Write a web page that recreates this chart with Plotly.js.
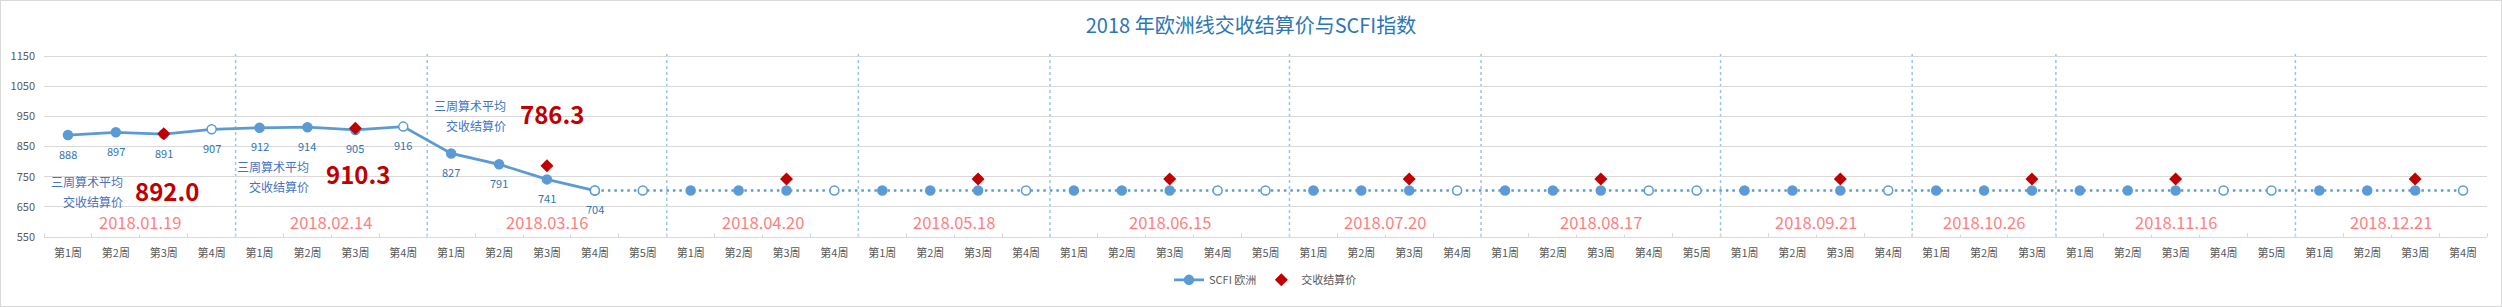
<!DOCTYPE html>
<html><head><meta charset="utf-8">
<script src="https://cdn.plot.ly/plotly-3.0.1.min.js"></script>
<style>
html,body{margin:0;padding:0;background:#fff}
#chart{width:2500px;height:305px;border:1px solid #d9d9d9}
</style>
</head><body><div id="chart"></div>
<script>
// ---------------- data ----------------
const monthDates = ['2018.01.19','2018.02.14','2018.03.16','2018.04.20','2018.05.18','2018.06.15',
                    '2018.07.20','2018.08.17','2018.09.21','2018.10.26','2018.11.16','2018.12.21'];
const monthWeeks = [4,4,5,4,4,5,4,5,4,3,5,4];
const weekLabels = [
  '第1周','第2周','第3周','第4周',
  '第1周','第2周','第3周','第4周',
  '第1周','第2周','第3周','第4周','第5周',
  '第1周','第2周','第3周','第4周',
  '第1周','第2周','第3周','第4周',
  '第1周','第2周','第3周','第4周','第5周',
  '第1周','第2周','第3周','第4周',
  '第1周','第2周','第3周','第4周','第5周',
  '第1周','第2周','第3周','第4周',
  '第1周','第2周','第3周',
  '第1周','第2周','第3周','第4周','第5周',
  '第1周','第2周','第3周','第4周'
];
const scfiEurope = [
  888,897,891,907,
  912,914,905,916,
  827,791,741,704,704,
  704,704,704,704,
  704,704,704,704,
  704,704,704,704,704,
  704,704,704,704,
  704,704,704,704,704,
  704,704,704,704,
  704,704,704,
  704,704,704,704,704,
  704,704,704,704
];
const settlement = [892.0,910.3,786.3,742,742,742,742,742,742,742,742,742];
const settlementWeek = '第3周';
const labeledPoints = 12;      // points that carry data labels / solid line
const avgNoteMonths = 3;       // months with the "三周算术平均" note

// ---------------- build ----------------
const FONT = '"Noto Sans CJK SC","Noto Sans",sans-serif';
const BLUE = '#5b9bd5';
const idx = weekLabels.map((_, i) => i);
const monthStart = [];
{ let s = 0; monthWeeks.forEach(n => { monthStart.push(s); s += n; }); }
const settleX = monthStart.map((st, m) => st + weekLabels.slice(st, st + monthWeeks[m]).indexOf(settlementWeek));
const markerFill = weekLabels.map(w => (w === '第4周' || w === '第5周') ? '#ffffff' : BLUE);
const split = labeledPoints - 1;

const traces = [
  {
    x: idx.slice(0, split + 1), y: scfiEurope.slice(0, split + 1),
    type: 'scatter', mode: 'lines+markers', name: 'SCFI 欧洲',
    line: {color: BLUE, width: 2.75},
    marker: {size: 9, color: markerFill.slice(0, split + 1), line: {color: BLUE, width: 1.5}},
    hoverinfo: 'skip'
  },
  {
    x: idx.slice(split), y: scfiEurope.slice(split),
    type: 'scatter', mode: 'lines+markers', name: 'SCFI 欧洲', showlegend: false,
    line: {color: BLUE, width: 2.5, dash: '2.5px,4px'},
    marker: {size: 9, color: markerFill.slice(split), line: {color: BLUE, width: 1.5}},
    hoverinfo: 'skip'
  },
  {
    x: settleX, y: settlement,
    type: 'scatter', mode: 'markers', name: '交收结算价',
    marker: {symbol: 'diamond', size: 10, color: '#c00000'},
    hoverinfo: 'skip'
  }
];

const annotations = [];
// data labels
for (let i = 0; i < labeledPoints; i++) {
  annotations.push({x: i, y: scfiEurope[i], text: String(scfiEurope[i]), showarrow: false,
    yshift: -18.5, font: {family: FONT, size: 11, color: '#2e75b6'}});
}
// date labels
monthDates.forEach((d, m) => {
  annotations.push({x: monthStart[m] + (monthWeeks[m] - 1) / 2, y: 550, yanchor: 'bottom', yshift: 2,
    text: d, showarrow: false, bgcolor: '#ffffff', borderpad: 0,
    font: {family: FONT, size: 16.5, color: '#ff7f7f'}});
});
// three-week average notes (text-box positions)
const notePos = [
  {lx: 1.19, l1: 733, l2: 668, nx: 2.06, ny: 703},
  {lx: 5.07, l1: 783, l2: 717, nx: 6.05, ny: 761},
  {lx: 9.18, l1: 986, l2: 919, nx: 10.1, ny: 960}
];
for (let m = 0; m < avgNoteMonths; m++) {
  const p = notePos[m];
  annotations.push({x: p.lx, y: p.l1, xanchor: 'right', text: '三周算术平均', showarrow: false,
    font: {family: FONT, size: 12, color: '#4472c4'}});
  annotations.push({x: p.lx, y: p.l2, xanchor: 'right', text: '交收结算价', showarrow: false,
    font: {family: FONT, size: 12, color: '#4472c4'}});
  annotations.push({x: p.nx, y: p.ny, text: '<b>' + settlement[m].toFixed(1) + '</b>', showarrow: false,
    font: {family: FONT, size: 24, color: '#c00000'}});
}

// month separators
const shapes = monthStart.slice(1).map(st => ({
  type: 'line', xref: 'x', yref: 'y', x0: st - 0.5, x1: st - 0.5, y0: 550, y1: 1160,
  line: {color: '#9dc3e6', width: 1.5, dash: 'dot'}, layer: 'below'
}));

const boundaries = [];
for (let i = 0; i <= weekLabels.length; i++) boundaries.push(i - 0.5);

const layout = {
  width: 2500, height: 305,
  margin: {l: 43.3, r: 14, t: 51.6, b: 63.3, pad: 0},
  paper_bgcolor: '#ffffff', plot_bgcolor: '#ffffff',
  font: {family: FONT, size: 11, color: '#595959'},
  title: {text: '2018 年欧洲线交收结算价与SCFI指数', x: 0.5, xanchor: 'center',
          y: 1 - 25/305, yref: 'container', yanchor: 'middle',
          font: {family: FONT, size: 20, color: '#2e75b6'}},
  showlegend: true,
  legend: {orientation: 'h', x: 0.5, xanchor: 'center', y: -0.233, yanchor: 'middle',
           font: {family: FONT, size: 11, color: '#595959'}, bgcolor: 'rgba(0,0,0,0)'},
  xaxis: {
    range: [-0.5, weekLabels.length - 0.5], tickmode: 'array', tickvals: idx, ticktext: weekLabels,
    ticks: '', showgrid: false, zeroline: false, showline: true, linecolor: '#d9d9d9', linewidth: 1,
    tickfont: {family: FONT, size: 11, color: '#595959'}, ticklabelstandoff: 6,
    minor: {tickmode: 'array', tickvals: boundaries, ticks: 'inside', ticklen: 4, tickwidth: 1,
            tickcolor: '#d9d9d9', showgrid: false},
    fixedrange: true
  },
  yaxis: {
    range: [550, 1160], tickmode: 'linear', tick0: 550, dtick: 100,
    showgrid: true, gridcolor: '#d9d9d9', gridwidth: 1, zeroline: false, showline: false,
    ticks: '', tickfont: {family: FONT, size: 11, color: '#595959'}, ticklabelstandoff: 8,
    fixedrange: true
  },
  annotations: annotations,
  shapes: shapes
};

Plotly.newPlot('chart', traces, layout, {displayModeBar: false, staticPlot: true});
</script>
</body></html>
